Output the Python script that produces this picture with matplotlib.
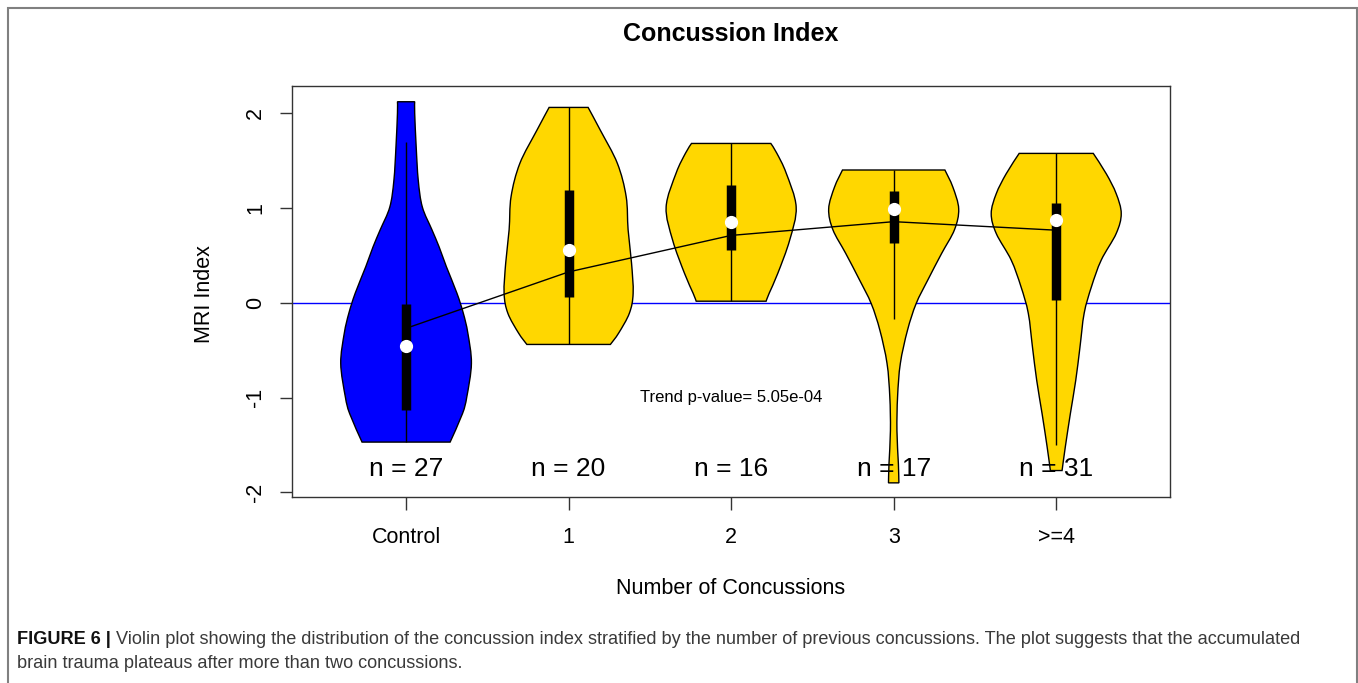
import matplotlib
matplotlib.use("Agg")
import matplotlib.pyplot as plt
from matplotlib.patches import Rectangle, PathPatch
from matplotlib.path import Path
import numpy as np

plt.rcParams['font.family'] = ['Liberation Sans', 'DejaVu Sans']

# groups along the x axis
groups = ["Control", "1", "2", "3", ">=4"]
counts = [27, 20, 16, 17, 31]
fills = ["#0000FF", "#FFD700", "#FFD700", "#FFD700", "#FFD700"]

# violin outlines: MRI index level and half width (x units) at that level
violin_y = [
    [2.12, 2.00, 1.65, 1.29, 1.01, 0.77, 0.59, 0.38, 0.10, -0.11, -0.32, -0.64, -0.99, -1.17, -1.47],
    [2.06, 1.82, 1.47, 1.12, 0.77, 0.42, 0.10, -0.11, -0.32, -0.44],
    [1.68, 1.58, 1.37, 1.01, 0.66, 0.31, 0.10, 0.016],
    [1.40, 1.22, 0.99, 0.77, 0.52, 0.24, -0.01, -0.29, -0.64, -0.99, -1.35, -1.70, -1.90],
    [1.575, 1.36, 1.15, 0.94, 0.73, 0.45, 0.17, -0.11, -0.47, -0.82, -1.17, -1.52, -1.77],
]
violin_hw = [
    [0.053, 0.053, 0.062, 0.075, 0.100, 0.159, 0.203, 0.248, 0.313, 0.352, 0.380, 0.402, 0.374, 0.347, 0.271],
    [0.120, 0.195, 0.300, 0.354, 0.366, 0.387, 0.397, 0.374, 0.308, 0.257],
    [0.244, 0.280, 0.338, 0.400, 0.360, 0.287, 0.234, 0.215],
    [0.315, 0.364, 0.400, 0.374, 0.295, 0.210, 0.138, 0.085, 0.041, 0.024, 0.020, 0.029, 0.032],
    [0.228, 0.308, 0.369, 0.400, 0.369, 0.277, 0.217, 0.172, 0.146, 0.120, 0.087, 0.056, 0.036],
]

# box plot summaries
whisker_lo = [-1.47, -0.44, 0.016, -0.17, -1.50]
whisker_hi = [1.70, 2.06, 1.68, 1.40, 1.575]
q1 = [-1.135, 0.06, 0.554, 0.63, 0.026]
q3 = [-0.01, 1.19, 1.24, 1.18, 1.054]
medians = [-0.46, 0.555, 0.853, 0.984, 0.87]

# fitted trend across groups
trend = [-0.27, 0.325, 0.71, 0.855, 0.765]
trend_text = "Trend p-value= 5.05e-04"

caption_lead = "FIGURE 6 |"
caption_1 = ("Violin plot showing the distribution of the concussion index stratified by the number "
             "of previous concussions. The plot suggests that the accumulated")
caption_2 = "brain trauma plateaus after more than two concussions."


def smooth_side(pts):
    """Bezier control points (Catmull-Rom) running through pts."""
    pts = np.asarray(pts, dtype=float)
    ext = np.vstack([pts[0], pts, pts[-1]])
    verts = []
    for i in range(1, len(ext) - 2):
        p0, p1, p2, p3 = ext[i - 1], ext[i], ext[i + 1], ext[i + 2]
        verts += [p1 + (p2 - p0) / 6.0, p2 - (p3 - p1) / 6.0, p2]
    return verts


def violin_path(x, y, hw):
    y = np.asarray(y)
    hw = np.asarray(hw)
    right = np.column_stack([x + hw, y])
    left = np.column_stack([x - hw, y])[::-1]
    verts = [tuple(left[-1]), tuple(right[0])]
    codes = [Path.MOVETO, Path.LINETO]
    seg = smooth_side(right)
    verts += seg
    codes += [Path.CURVE4] * len(seg)
    verts.append(tuple(left[0]))
    codes.append(Path.LINETO)
    seg = smooth_side(left)
    verts += seg
    codes += [Path.CURVE4] * len(seg)
    verts.append(tuple(left[-1]))
    codes.append(Path.CLOSEPOLY)
    return Path(verts, codes)


W, H = 1358, 683
fig = plt.figure(figsize=(W / 100, H / 100), dpi=100)
ax = fig.add_axes([292.3 / W, 1 - 496.7 / H, (1170 - 292.3) / W, (496.7 - 86) / H])

xs = np.arange(1, len(groups) + 1)

ax.axhline(0, color="#0000FF", lw=1.0, zorder=1)

for i, x in enumerate(xs):
    ax.add_patch(PathPatch(violin_path(x, violin_y[i], violin_hw[i]),
                           facecolor=fills[i], edgecolor="black", lw=1.0, zorder=2))
    ax.vlines(x, whisker_lo[i], whisker_hi[i], color="black", lw=1.0, zorder=3)

ax.plot(xs, trend, color="black", lw=1.0, zorder=4)

for i, x in enumerate(xs):
    ax.vlines(x, q1[i], q3[i], color="black", lw=6.8, zorder=5)
    ax.plot(x, medians[i], "o", color="white", markersize=8.5, mec="white", zorder=6)
    ax.text(x, -1.757, "n = %d" % counts[i], ha="center", va="center", fontsize=19, zorder=7)

ax.text(3, -1.0, trend_text, ha="center", va="center", fontsize=12)

ax.set_xlim(0.3, 5.7)
ax.set_ylim(-2.046, 2.286)
ax.set_xticks(xs)
ax.set_xticklabels(groups, fontsize=15.5)
ax.set_yticks([-2, -1, 0, 1, 2])
ax.set_yticklabels(["-2", "-1", "0", "1", "2"], fontsize=15.5, rotation=90, va="center")
ax.tick_params(axis="both", length=9, width=1.0, color="#333333")
ax.tick_params(axis="x", pad=13)
ax.tick_params(axis="y", pad=10)
for s in ax.spines.values():
    s.set_color("#333333")
    s.set_linewidth(1.0)

fig.text(731 / W, 1 - 34 / H, "Concussion Index", ha="center", va="center",
         fontsize=18, fontweight="bold")
fig.text(731 / W, 1 - 589 / H, "Number of Concussions", ha="center", va="center", fontsize=15.5)
fig.text(204 / W, 1 - 294 / H, "MRI Index", ha="center", va="center", rotation=90, fontsize=15.5)

# journal frame around the figure
fig.patches.append(Rectangle((7.5 / W, -0.05), (1357 - 7.5) / W, 1.05 - 8.5 / H,
                             transform=fig.transFigure, fill=False,
                             edgecolor="#808080", lw=1.5))

# caption
lead = fig.text(17 / W, 1 - 640 / H, caption_lead, ha="left", va="center",
                fontsize=13.1, fontweight="bold", color="#111111")
fig.canvas.draw()
bb = lead.get_window_extent()
fig.text((bb.x1 + 5) / W, 1 - 640 / H, caption_1,
         ha="left", va="center", fontsize=13.1, color="#3a3a3a")
fig.text(17 / W, 1 - 663 / H, caption_2,
         ha="left", va="center", fontsize=13.1, color="#3a3a3a")

fig.savefig("out.png", dpi=100)
